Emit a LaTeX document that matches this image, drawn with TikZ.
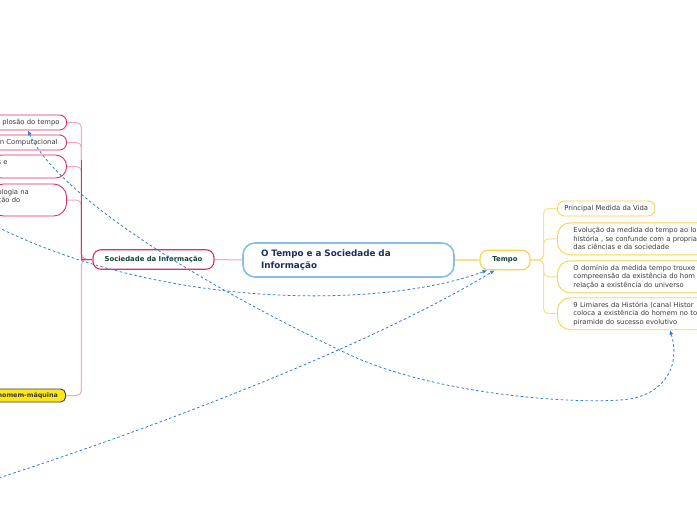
\documentclass[tikz,border=0pt]{standalone}
\usepackage{fontspec}
\setmainfont{DejaVu Sans}
\usepackage{tikz}
\usepackage{xcolor}
\usetikzlibrary{arrows.meta,positioning}

\definecolor{rootblue}{HTML}{8CBDE6}
\definecolor{rootink}{HTML}{1F2F5C}
\definecolor{topicink}{HTML}{174236}
\definecolor{socred}{HTML}{DE2D6C}
\definecolor{soclink}{HTML}{F4A6C2}
\definecolor{tempoyel}{HTML}{F8D44C}
\definecolor{tempolink}{HTML}{FBE08A}
\definecolor{relblue}{HTML}{2A7DE1}
\definecolor{leafink}{HTML}{3A3A3A}
\definecolor{hiyel}{HTML}{FFE81A}

\begin{document}
\begin{tikzpicture}[
  x=1pt, y=-1pt,
  root/.style={draw=rootblue, line width=1.6pt, rounded corners=12pt, fill=white,
               minimum width=211pt, minimum height=34pt, text width=175pt,
               inner xsep=18pt, align=left, text=rootink,
               font=\fontsize{8.8}{12}\selectfont\bfseries},
  topic/.style={line width=1.1pt, rounded corners=8pt, fill=white,
                minimum height=19.5pt, text=topicink,
                font=\fontsize{6.85}{8.5}\selectfont\bfseries},
  leaf/.style={line width=0.9pt, fill=white, inner xsep=7pt, inner ysep=1pt,
               minimum height=15pt, rounded corners=7pt, text=leafink,
               font=\fontsize{6.8}{8.5}\selectfont},
  tleaf/.style={leaf, draw=tempoyel},
  sleaf/.style={leaf, draw=socred, anchor=east, text width=62pt},
  wide/.style={text width=160pt, inner xsep=16pt, align=left,
               minimum height=32pt, rounded corners=13pt},
  tall/.style={align=left, rounded corners=11pt},
  hilite/.style={leaf, draw=leafink, fill=hiyel, anchor=east, text width=61pt,
                 minimum height=13pt, rounded corners=5pt, align=left,
                 font=\fontsize{6.4}{8.5}\selectfont\bfseries},
  tlink/.style={draw=tempolink, line width=1pt, rounded corners=5pt},
  slink/.style={draw=soclink, line width=1pt, rounded corners=5pt},
  sstem/.style={draw=socred, line width=1.3pt},
  relation/.style={relblue, line width=0.8pt, dash pattern=on 2.6pt off 2.4pt,
                   -{Latex[length=4.5pt,width=4pt]}},
  relboth/.style={relation, {Latex[length=4.5pt,width=4pt]}-{Latex[length=4.5pt,width=4pt]}}
]
  \useasboundingbox (0,0) rectangle (697,520);
  \fill[white] (0,0) rectangle (697,520);
  \clip (0,0) rectangle (697,520);

  \node[root] (root) at (348.5,260) {O Tempo e a Sociedade da\\Informação};
  \node[topic, draw=tempoyel, minimum width=50pt] (tempo) at (505,260) {Tempo};
  \node[topic, draw=socred, minimum width=121pt] (soc) at (153.5,259.5)
       {Sociedade da Informação};

  % ramo Tempo
  \node[tleaf, anchor=west] (t1) at (557,208.5) {Principal Medida da Vida};
  \node[tleaf, wide, below right=6pt and 0pt of t1.south west] (t2)
       {Evolução da medida do tempo ao lo\\história , se confunde com a propria\\das ciências e da sociedade};
  \node[tleaf, wide, below right=5pt and 0pt of t2.south west] (t3)
       {O domínio da medida tempo trouxe\\compreensão da existência do hom\\relação a existência do universo};
  \node[tleaf, wide, below right=4pt and 0pt of t3.south west] (t4)
       {9 Limiares da História (canal Histor\\coloca a existência do homem no to\\piramide do sucesso evolutivo};

  % ramo Sociedade
  \node[sleaf, align=right] (s1) at (67,122.5) {plosão do tempo};
  \node[sleaf, align=left] (s2) at (67,142.5) {m Computacional};
  \node[sleaf, tall, minimum height=23pt] (s3) at (67,166.5) {s e\\\mbox{}};
  \node[sleaf, tall, minimum height=32pt, rounded corners=13pt] (s4) at (67,200)
       {ologia na\\ção do\\\mbox{}};
  \node[hilite] (s5) at (66,395.5) {homem-máquina};

  \draw[slink] (root.west) -- (soc.east);
  \draw[tlink, line width=1.3pt] (root.east) -- (tempo.west);

  \foreach \leaf in {t1,t2,t3,t4}
    \draw[tlink] (tempo.east) -- ++(13,0) |- (\leaf.west);
  \foreach \leaf in {s1,s2,s3,s4,s5}
    \draw[slink] (soc.west) -- ++(-11,0) |- (\leaf.east);
  \draw[sstem] (soc.west) -- ++(-11,0) -- ++(0,-100);

  % relacoes
  \coordinate (farA) at (-20,218);
  \coordinate (farB) at (-20,484);
  \draw[relation] (farA) .. controls (150,310) and (380,310) .. (tempo.210);
  \draw[relation] (farB) .. controls (180,420) and (380,340) .. (tempo.225);
  \draw[relboth] ([xshift=-39pt]s1.south east) .. controls (50,180) and (150,260) .. (350,355)
        .. controls (430,392) and (560,404) .. (620,400)
        .. controls (660,398) and (682,370) .. ([xshift=113pt]t4.south west);
\end{tikzpicture}
\end{document}
